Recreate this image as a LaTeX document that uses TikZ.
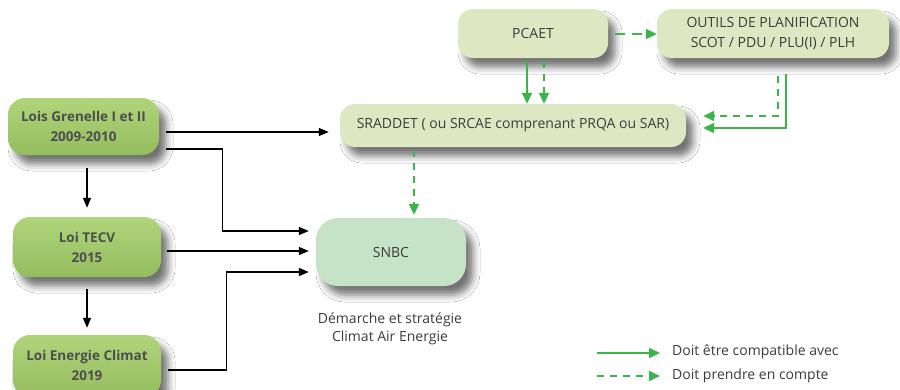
\documentclass[tikz,border=0pt]{standalone}
\usepackage{fontspec}
\setmainfont{Open Sans}
\usetikzlibrary{arrows.meta,shadows.blur,calc}
\definecolor{lawtop}{HTML}{B0D47A}
\definecolor{lawbot}{HTML}{94BD5F}
\definecolor{paleyg}{HTML}{DDE8C3}
\definecolor{palegr}{HTML}{C7E3C7}
\definecolor{arrgreen}{HTML}{3BB54A}
\definecolor{txtgray}{HTML}{3C3C3C}
\definecolor{boldgray}{HTML}{4E4E4E}
\tikzset{
  shad/.style={blur shadow={shadow xshift=7pt,shadow yshift=-9pt,shadow blur radius=7pt,shadow opacity=55}},
  lawbox/.style={shad,rounded corners=17pt,top color=lawtop,bottom color=lawbot,draw=none,
     align=center,font=\fontsize{13.5}{20}\selectfont\bfseries,text=boldgray,inner sep=0pt},
  ygbox/.style={shad,rounded corners=15pt,fill=paleyg,draw=none,align=center,
     font=\fontsize{14}{20}\selectfont,text=txtgray,inner sep=0pt},
  snbcbox/.style={shad,rounded corners=22pt,fill=palegr,draw=none,align=center,
     font=\fontsize{14}{16}\selectfont,text=txtgray,inner sep=0pt},
  txt/.style={inner sep=0pt,font=\fontsize{14}{18.3}\selectfont,text=txtgray},
  blk/.style={draw=black,line width=1.4pt,-{Triangle[length=10pt,width=8pt]}},
  gsolid/.style={draw=arrgreen,line width=1.7pt,-{Triangle[length=11pt,width=10pt]},color=arrgreen},
  gdash/.style={gsolid,dash pattern=on 7pt off 6pt},
}
\begin{document}
\begin{tikzpicture}[x=1pt,y=-1pt]
\useasboundingbox (0,0) rectangle (900,389);
\fill[white] (0,0) rectangle (900,389);
% nodes
\node[lawbox,minimum width=151pt,minimum height=57pt] (gren) at (83.5,126.5) {Lois Grenelle I et II\\2009-2010};
\node[lawbox,minimum width=148pt,minimum height=60pt] (tecv) at (87,247) {Loi TECV\\2015};
\node[lawbox,minimum width=148pt,minimum height=62pt] (ener) at (87,366) {\raisebox{10pt}{\begin{tabular}{@{}c@{}}Loi Energie Climat\\2019\end{tabular}}};
\node[snbcbox,minimum width=150pt,minimum height=68pt] (snbc) at (391,252) {SNBC};
\node[txt,align=center] (capt) at (390,329) {Démarche et stratégie\\Climat Air Energie};
\node[ygbox,minimum width=346pt,minimum height=43pt] (srad) at (513,125.5) {SRADDET ( ou SRCAE comprenant PRQA ou SAR)};
\node[ygbox,minimum width=150pt,minimum height=49pt] (pcaet) at (533,33.5) {PCAET};
\node[ygbox,minimum width=232pt,minimum height=49pt] (outil) at (773,33.5) {OUTILS DE PLANIFICATION\\SCOT / PDU / PLU(I) / PLH};
% black connectors
\draw[blk] ([shift={(7pt,-5.5pt)}]gren.east) -- ([shift={(-11pt,-6.5pt)}]srad.west);
\draw[blk] ([shift={(7pt,-22.5pt)}]gren.east) -- ++(56,0) |- ([shift={(-7pt,21pt)}]snbc.west);
\draw[blk] ([shift={(6pt,-4pt)}]tecv.east) -- ([shift={(-7pt,1pt)}]snbc.west);
\draw[blk] ([shift={(7pt,-4pt)}]ener.east) -- ++(58,0) |- ([shift={(-7pt,-20pt)}]snbc.west);
\draw[blk,shorten <=13pt,shorten >=9pt] (tecv.north |- gren.south) -- (tecv.north);
\draw[blk,shorten <=12pt,shorten >=7pt] (tecv.south) -- (tecv.south |- ener.north);
% green connectors
\draw[gdash,dash pattern=on 10pt off 7pt,shorten <=7pt] ([yshift=-0.5pt]pcaet.east) -- ([yshift=-0.5pt]outil.west);
\draw[gsolid,shorten <=3pt] ([xshift=-6pt]pcaet.south) -- ([xshift=-6pt]pcaet.south |- srad.north);
\draw[gdash,shorten <=3pt] ([xshift=11pt]pcaet.south) -- ([xshift=11pt]pcaet.south |- srad.north);
\draw[gsolid,shorten <=16pt] ([xshift=13pt]outil.south) |- ([shift={(17pt,-2.5pt)}]srad.east);
\draw[gdash,shorten <=18pt] ([xshift=5pt]outil.south) |- ([shift={(17pt,9.5pt)}]srad.east);
\draw[gdash,shorten <=3pt,shorten >=3pt] ([xshift=23pt]snbc.north |- srad.south) -- ([xshift=23pt]snbc.north);
% legend
\node[txt,anchor=west] (leg1) at (672,352) {Doit être compatible avec};
\node[txt,anchor=west] (leg2) at (672,376) {Doit prendre en compte};
\draw[gsolid] ([xshift=-75pt,yshift=-1pt]leg1.west) -- ([xshift=-12pt,yshift=-1pt]leg1.west);
\draw[gdash] ([xshift=-75pt]leg2.west) -- ([xshift=-12pt]leg2.west);
\end{tikzpicture}
\end{document}
